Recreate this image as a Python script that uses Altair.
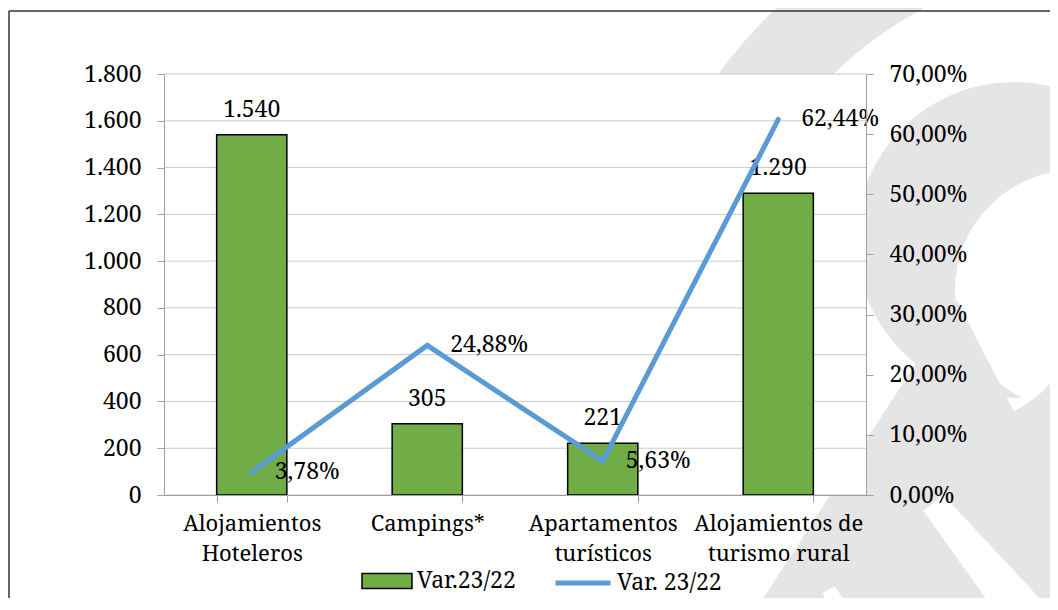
import math
import json
import altair as alt
import pandas as pd

# ---------------- data ----------------
categories = ["Alojamientos Hoteleros", "Campings*", "Apartamentos turísticos",
              "Alojamientos de turismo rural"]
label_lines = [["Alojamientos", "Hoteleros"], ["Campings*"],
               ["Apartamentos", "turísticos"], ["Alojamientos de", "turismo rural"]]
bar_values = [1540, 305, 221, 1290]
pct_values = [3.78, 24.88, 5.63, 62.44]
left_ticks = [0, 200, 400, 600, 800, 1000, 1200, 1400, 1600, 1800]
right_ticks = [0, 10, 20, 30, 40, 50, 60, 70]
bar_series = "Var.23/22"
line_series = "Var. 23/22"

FONT = "Noto Serif"
FS_NUM = 23
FS_CAT = 22
FS_LEG = 23
W, H = 702, 421
PAD_L, PAD_T = 156, 66
GREEN = "#70AD47"
BLUE = "#5B9BD5"
GRID = "#c9c9c9"
AXIS = "#a0a0a0"
WM = "#e5e5e5"

df = pd.DataFrame({"cat": categories, "bar": bar_values, "pct": pct_values})

label_expr = " : ".join(
    f"datum.label == {json.dumps(c, ensure_ascii=False)} ? {json.dumps(l, ensure_ascii=False)}"
    for c, l in zip(categories, label_lines)
) + " : datum.label"

x_scale = alt.Scale(domain=categories, paddingInner=0.6, paddingOuter=0.3)
x_axis = alt.Axis(title=None, labelExpr=label_expr, labelFont=FONT, labelFontSize=FS_CAT,
                  labelColor="black", labelLineHeight=30, labelPadding=11, labelLimit=0,
                  labelBaseline="top", labelAngle=0,
                  domainColor=AXIS, tickColor=AXIS, tickSize=7, tickBand="extent",
                  grid=False, zindex=1)
left_scale = alt.Scale(domain=[0, 1800], nice=False)
right_scale = alt.Scale(domain=[0, 70], nice=False)
left_axis = alt.Axis(title=None, values=left_ticks, grid=False,
                     labelExpr="replace(format(datum.value, ','), ',', '.')",
                     labelFont=FONT, labelFontSize=FS_NUM, labelColor="black",
                     labelPadding=16, domainColor=AXIS, tickColor=AXIS,
                     tickSize=7, zindex=1)
right_axis = alt.Axis(title=None, orient="right", values=right_ticks, grid=False,
                      labelExpr="replace(format(datum.value, '.2f'), '.', ',') + '%'",
                      labelFont=FONT, labelFontSize=FS_NUM, labelColor="black",
                      labelPadding=16, domainColor=AXIS, tickColor=AXIS,
                      tickSize=7, zindex=1)

# ---------------- decoration (watermark + frame) ----------------
one = alt.Data(values=[{"k": 0}])


def arc(cx, cy, r_in, r_out, a1, a2, color):
    return alt.Chart(one).mark_arc(color=color, strokeWidth=0).encode(
        x=alt.value(cx - PAD_L - 8), y=alt.value(cy - PAD_T - 8),
        radius=alt.value(r_out), radius2=alt.value(r_in),
        theta=alt.value(math.radians(a1)), theta2=alt.value(math.radians(a2)))


deco = [
    arc(1110, 360, 398, 485, 280, 370, WM),   # outer ring
    arc(1014, 240, 0, 158, 0, 360, WM),       # inner ring disk
    arc(1075, 290, 0, 120, 0, 360, "white"),  # hole
    arc(957, 300, 0, 450, 153, 213, WM),      # lower leg
    arc(957, 300, 125, 450, 118, 154, WM),
    arc(810, 352, 195, 460, 137.0, 144.5, "white"),  # white stripe
    arc(790, 520, 80, 200, 146.0, 156.0, "white"),   # small white notch
]

frame_top = alt.Chart(one).mark_rule(color="#333333", strokeWidth=1.5).encode(
    x=alt.value(-PAD_L + 1), x2=alt.value(1100), y=alt.value(-63))
frame_left = alt.Chart(one).mark_rule(color="#333333", strokeWidth=1.5).encode(
    x=alt.value(-PAD_L + 1), y=alt.value(-63), y2=alt.value(700))
plot_bg = alt.Chart(one).mark_rect(color="white").encode(
    x=alt.value(0), x2=alt.value(W), y=alt.value(0), y2=alt.value(H))

# ---------------- left axis layers ----------------
grid = alt.Chart(pd.DataFrame({"t": left_ticks})).mark_rule(
    color=GRID, strokeWidth=1).encode(
    y=alt.Y("t:Q", scale=left_scale, axis=left_axis))

bars = alt.Chart(df).transform_calculate(s=f"'{bar_series}'").mark_bar(
    stroke="black", strokeWidth=1.5).encode(
    x=alt.X("cat:N", scale=x_scale, axis=x_axis, sort=categories),
    y=alt.Y("bar:Q", scale=left_scale, axis=left_axis),
    fill=alt.Fill("s:N", scale=alt.Scale(range=[GREEN]),
                  legend=alt.Legend(orient="none", legendX=197, legendY=481, title=None,
                                    padding=0, symbolType="M-1,-0.3H1V0.3H-1Z",
                                    symbolSize=2500, symbolStrokeColor="black",
                                    symbolStrokeWidth=1.5, symbolOpacity=1,
                                    labelFont=FONT, labelFontSize=FS_LEG,
                                    labelColor="black", labelOffset=4)),
)

bar_text = alt.Chart(df).transform_calculate(
    lab="replace(format(datum.bar, ','), ',', '.')").mark_text(
    font=FONT, fontSize=FS_NUM, color="black", baseline="alphabetic", dy=-18).encode(
    x=alt.X("cat:N", scale=x_scale, axis=x_axis, sort=categories),
    y=alt.Y("bar:Q", scale=left_scale, axis=left_axis),
    text="lab:N")

left = alt.layer(*deco, frame_top, frame_left, plot_bg, grid, bars, bar_text)

# ---------------- right axis layers ----------------
line = alt.Chart(df).transform_calculate(s=f"'{line_series}'").mark_line(
    strokeWidth=5, strokeCap="round", strokeJoin="miter").encode(
    x=alt.X("cat:N", scale=x_scale, axis=x_axis, sort=categories),
    y=alt.Y("pct:Q", scale=right_scale, axis=right_axis),
    stroke=alt.Stroke("s:N", scale=alt.Scale(range=[BLUE]),
                      legend=alt.Legend(orient="none", legendX=389, legendY=479, title=None,
                                        padding=0, symbolType="stroke", symbolSize=3025,
                                        symbolStrokeWidth=5,
                                        labelFont=FONT, labelFontSize=FS_LEG,
                                        labelColor="black", labelOffset=4)),
)

line_text = alt.Chart(df).transform_calculate(
    lab="replace(format(datum.pct, '.2f'), '.', ',') + '%'").mark_text(
    font=FONT, fontSize=FS_NUM, color="black", align="left", baseline="middle", dx=23).encode(
    x=alt.X("cat:N", scale=x_scale, axis=x_axis, sort=categories),
    y=alt.Y("pct:Q", scale=right_scale, axis=right_axis),
    text="lab:N")

right = alt.layer(line, line_text)

chart = alt.layer(left, right).resolve_scale(
    y="independent", fill="independent", stroke="independent"
).properties(
    width=W, height=H,
    autosize=alt.AutoSizeParams(type="none"),
    padding={"left": PAD_L, "top": PAD_T, "right": 1042 - PAD_L - W, "bottom": 590 - PAD_T - H},
    background="white",
).configure_view(stroke=None)

chart.save("out.html", embed_options={"renderer": "svg", "actions": False})
